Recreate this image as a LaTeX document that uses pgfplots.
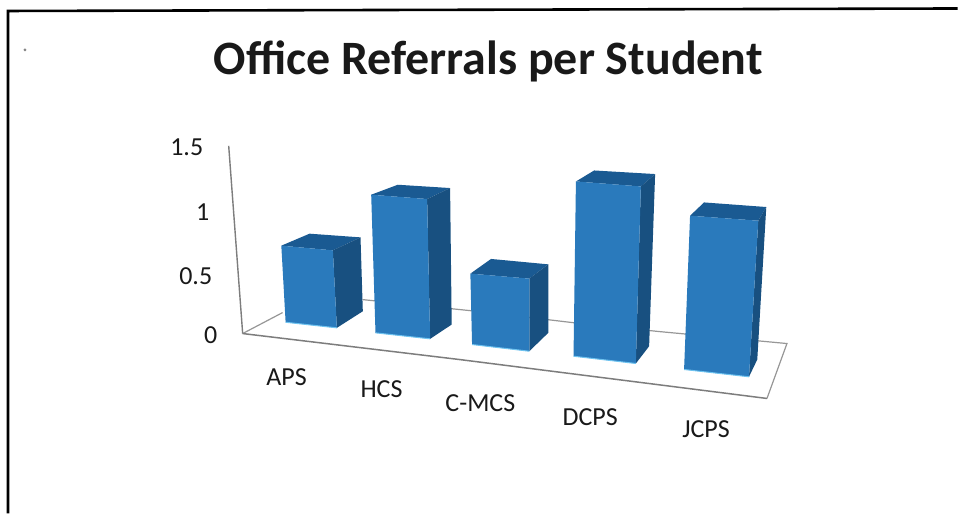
\documentclass[border=0pt]{standalone}
\usepackage{fontspec}
\setmainfont{Carlito}
\usepackage{pgfplots}
\pgfplotsset{compat=1.18}
\definecolor{front}{RGB}{42,122,188}
\definecolor{topf}{RGB}{26,90,146}
\definecolor{sidef}{RGB}{24,80,128}
\definecolor{fringe}{RGB}{110,195,240}
\definecolor{axgray}{RGB}{125,125,125}
\definecolor{txt}{RGB}{25,25,25}
\newcommand{\tlab}[2]{\node[font=\fontsize{26}{30}\selectfont,text=txt,anchor=center] at (axis cs:#1) {#2};}
% one bar: top face, side face, front face, fringe
\newcommand{\onebar}[7]{%
 \addplot[fill=topf,draw=none,forget plot] coordinates {#1 #2 #6 #5};
 \addplot[fill=sidef,draw=none,forget plot] coordinates {#2 #6 #7 #3};
 \addplot[fill=front,draw=none,forget plot] coordinates {#1 #2 #3 #4};
 \addplot[fringe,line width=1pt,forget plot] coordinates {#4 #3};
}
\begin{document}
\begin{tikzpicture}
\begin{axis}[
  scale only axis,width=959pt,height=514pt,
  xmin=0,xmax=959,ymin=0,ymax=514,y dir=reverse,
  hide axis,clip=false]
% paper
\addplot[fill=white,draw=none,forget plot] coordinates {(0,0) (959,0) (959,514) (0,514)};
% frame
\addplot[black,line width=2.6pt,forget plot] coordinates {(8,514) (8,11) (959,8.5)};
\addplot[only marks,mark=*,mark size=1.2pt,gray,forget plot] coordinates {(25,50)};
% value axis and floor
\addplot[axgray,line width=1.4pt,forget plot] coordinates {(229,146) (243,334)};
\addplot[axgray!80,line width=1.2pt,forget plot] coordinates {(243,334) (283,313)};
\addplot[axgray!80,line width=1.2pt,forget plot] coordinates {(363,300) (480,312) (573,323) (660,332) (788,344) (768,399)};
\addplot[axgray,line width=1.5pt,forget plot] coordinates {(243,334) (460,360) (768,399)};
% bars: front TL, TR, BR, BL, back L, back R, back bottom
\onebar{(281.7,246)}{(333.3,250.7)}{(337.3,328.3)}{(286,322.7)}{(310,234)}{(361,237.7)}{(363.3,311.7)}
\onebar{(371.7,195)}{(427.7,199.3)}{(430.7,339.3)}{(376,333.3)}{(398.3,185)}{(450.7,188.3)}{(452.3,325)}
\onebar{(471,274)}{(530,279)}{(530,351.7)}{(472.7,345)}{(491.7,259.3)}{(549,264.7)}{(549,333.3)}
\onebar{(576.7,181.7)}{(641.7,186.7)}{(636.7,364)}{(574.3,356.7)}{(595,170.7)}{(656,174.3)}{(650,346.7)}
\onebar{(691,216)}{(759.3,221)}{(750,377.3)}{(685,370)}{(705,202.7)}{(767.3,207.3)}{(758.3,360)}
% title
\node[font=\fontsize{48}{54}\selectfont\bfseries,text=txt,anchor=center] at (axis cs:489,62) {Office Referrals per Student};
% value labels
\tlab{187,147}{1.5}
\tlab{203,212}{1}
\tlab{196,277}{0.5}
\tlab{211,336}{0}
% categories
\tlab{287,378}{APS}
\tlab{382,390}{HCS}
\tlab{481,404}{C-MCS}
\tlab{591,418}{DCPS}
\tlab{707,430}{JCPS}
\end{axis}
\end{tikzpicture}
\end{document}
